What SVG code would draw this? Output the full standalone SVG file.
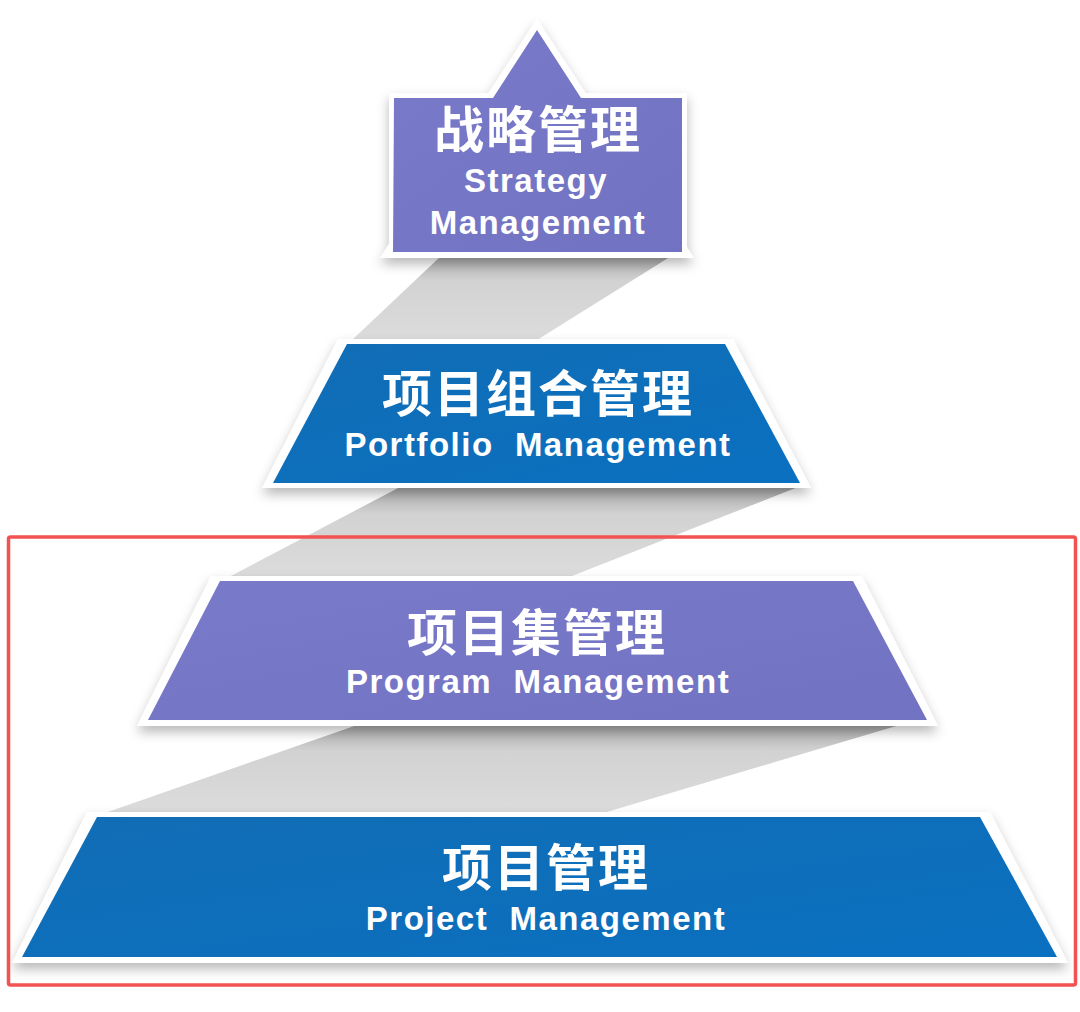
<svg xmlns="http://www.w3.org/2000/svg" width="1080" height="1012" viewBox="0 0 1080 1012">
  <defs>
    <linearGradient id="ribbon" x1="0" y1="0" x2="0" y2="1">
      <stop offset="0" stop-color="#a9a9a9"/>
      <stop offset="0.3" stop-color="#d2d2d2"/>
      <stop offset="1" stop-color="#dcdcdc"/>
    </linearGradient>
    <linearGradient id="purple" x1="0" y1="0" x2="1" y2="1">
      <stop offset="0" stop-color="#7a7acb"/>
      <stop offset="1" stop-color="#7272c2"/>
    </linearGradient>
    <linearGradient id="blue" x1="0" y1="0" x2="1" y2="1">
      <stop offset="0" stop-color="#116db5"/>
      <stop offset="1" stop-color="#0a70c0"/>
    </linearGradient>
    <filter id="shadow" x="-10%" y="-10%" width="120%" height="140%">
      <feDropShadow dx="0" dy="6" stdDeviation="6" flood-color="#000" flood-opacity="0.28"/>
    </filter>
  </defs>
  <style>
    .frame { fill: #ffffff; filter: url(#shadow); }
    .pur { fill: url(#purple); }
    .blu { fill: url(#blue); }
    .rib { fill: url(#ribbon); }
    .cn { font-family: "Noto Sans CJK SC", "Noto Sans", sans-serif; font-weight: 700; font-size: 50px; fill: #ffffff; text-anchor: middle; letter-spacing: 2px; }
    .en { font-family: "Liberation Sans", Arial, sans-serif; font-weight: 700; font-size: 33px; fill: #ffffff; text-anchor: middle; letter-spacing: 1.5px; }
  </style>
  <rect width="1080" height="1012" fill="#ffffff"/>

  <g id="connectors">
    <polygon class="rib" points="442,255 673,255 537,340 352,340"/>
    <polygon class="rib" points="400,487 798,487 567,578 227,578"/>
    <polygon class="rib" points="360,724 903,724 600,814 102,814"/>
  </g>

  <g id="node-strategy">
    <g filter="url(#shadow)">
      <polygon fill="#ffffff" points="537,19 694,258 380,258"/>
      <rect x="389" y="93" width="298" height="164" fill="#ffffff"/>
    </g>
    <polygon class="pur" points="537,30 581,98 682,98 682,252 393,252 394,98 493,98"/>
    <text class="cn" x="538" y="148">战略管理</text>
    <text class="en" x="536" y="192">Strategy</text>
    <text class="en" x="538" y="234">Management</text>
  </g>

  <g id="node-portfolio">
    <polygon class="frame" points="338,339 733,339 811,488 262,488"/>
    <polygon class="blu" points="347,344 725,344 800,483 273,483"/>
    <text class="cn" x="538" y="412">项目组合管理</text>
    <text class="en" x="538" y="456" xml:space="preserve">Portfolio  Management</text>
  </g>

  <g id="node-program">
    <polygon class="frame" points="211,576 862,576 938,726 137,726"/>
    <polygon class="pur" points="220,581 853,581 927,720 148,720"/>
    <text class="cn" x="537" y="651">项目集管理</text>
    <text class="en" x="538" y="693" xml:space="preserve">Program  Management</text>
  </g>

  <g id="node-project">
    <polygon class="frame" points="87,812 990,812 1068,963 12,963"/>
    <polygon class="blu" points="97,817 980,817 1057,957 22,957"/>
    <text class="cn" x="546" y="886">项目管理</text>
    <text class="en" x="546" y="930" xml:space="preserve">Project  Management</text>
  </g>

  <rect id="highlight" x="8.5" y="537" width="1067" height="448" rx="2" fill="none" stroke="#f25252" stroke-width="3.5"/>
</svg>
